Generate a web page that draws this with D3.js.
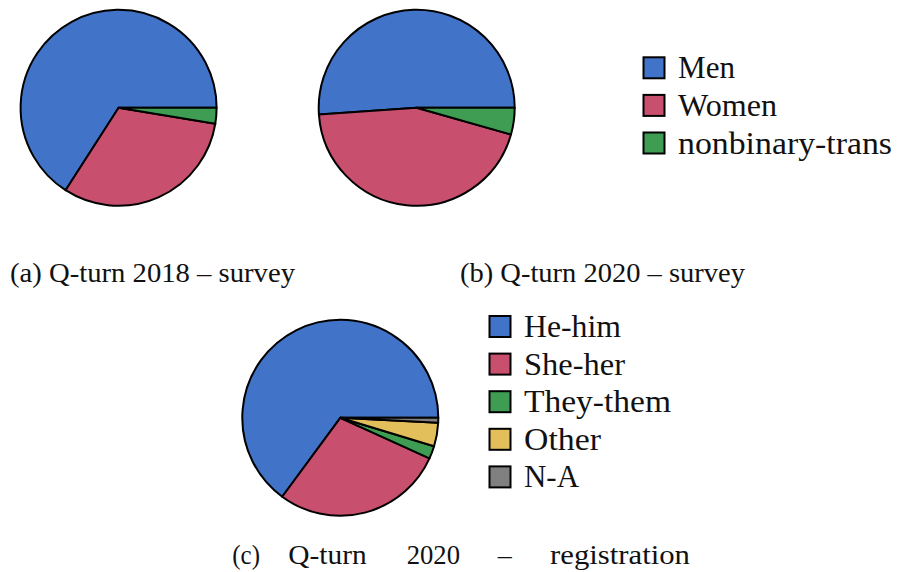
<!DOCTYPE html>
<html>
<head>
<meta charset="utf-8">
<script src="https://cdn.jsdelivr.net/npm/d3@7"></script>
<style>
  body { margin: 0; background: #fff; }
  svg { display: block; }
  svg text { font-family: "Liberation Serif", "DejaVu Serif", "Times New Roman", Times, Tinos, "Noto Serif", serif; }
</style>
</head>
<body>
<svg width="897" height="572"></svg>
<script>
// data, shares in percent
const genderLabels = ["Men", "Women", "nonbinary-trans"];
const survey2018 = [65.9, 31.5, 2.6];
const survey2020 = [51.1, 44.5, 4.4];
const pronounLabels = ["He-him", "She-her", "They-them", "Other", "N-A"];
const registration2020 = [64.9, 28.3, 2.1, 3.9, 0.8];
const captionA = "(a) Q-turn 2018 \u2013 survey";
const captionB = "(b) Q-turn 2020 \u2013 survey";
const captionCWords = ["(c)", "Q-turn", "2020", "\u2013", "registration"];

const colors = ["#4174c8", "#c84f6e", "#3e9d52", "#e3bf5b", "#808080"];

// label widths, to mimic the wider latex font
const genderWidths = [57, 99, 214];
const pronounWidths = [97, 101, 147, 77, 55];
const wordX = [232.3, 288.3, 406.7, 497.7, 550];
const wordW = [27.7, 78.4, 53.3, 14, 140];

const width = 897, height = 572;
const radius = 98;

const svg = d3.select("svg");

// slices go counterclockwise starting at 3 o'clock
const pie = d3.pie()
    .sort(null)
    .value(d => d)
    .startAngle(Math.PI / 2)
    .endAngle(Math.PI / 2 - 2 * Math.PI);

const arc = d3.arc().innerRadius(0).outerRadius(radius);

function drawPie(values, cx, cy) {
  const g = svg.append("g")
      .attr("transform", `translate(${cx}, ${cy})`);
  g.selectAll("path")
    .data(pie(values))
    .join("path")
      .attr("d", arc)
      .attr("fill", (d, i) => colors[i])
      .attr("stroke", "#000")
      .attr("stroke-width", 2)
      .attr("stroke-linejoin", "round");
}

function drawLegend(labels, widths, x, y) {
  const step = 37.6, box = 21;
  const g = svg.append("g")
      .attr("transform", `translate(${x}, ${y})`);
  const item = g.selectAll("g")
    .data(labels)
    .join("g")
      .attr("transform", (d, i) => `translate(0, ${i * step})`);
  item.append("rect")
      .attr("width", box)
      .attr("height", box)
      .attr("fill", (d, i) => colors[i])
      .attr("stroke", "#000")
      .attr("stroke-width", 2);
  item.append("text")
      .attr("x", 34.5)
      .attr("y", box)
      .style("font-size", "31px")
      .attr("fill", "#111")
      .attr("textLength", (d, i) => widths[i])
      .attr("lengthAdjust", "spacingAndGlyphs")
      .text(d => d);
}

drawPie(survey2018, 118.6, 107.8);
drawPie(survey2020, 416.7, 107.8);
drawPie(registration2020, 340.3, 417.8);

drawLegend(genderLabels, genderWidths, 643.5, 57.3);
drawLegend(pronounLabels, pronounWidths, 489.5, 316);

// sub captions
[[captionA, 10], [captionB, 460]].forEach(([t, x]) => {
  svg.append("text")
      .attr("x", x)
      .attr("y", 281.7)
      .style("font-size", "28px")
      .attr("fill", "#111")
      .attr("textLength", 285)
      .attr("lengthAdjust", "spacingAndGlyphs")
      .text(t);
});

// justified caption (c): words spread across the line
svg.selectAll(".capc")
  .data(captionCWords)
  .join("text")
    .attr("class", "capc")
    .attr("x", (d, i) => wordX[i])
    .attr("y", 564)
    .style("font-size", "28px")
    .attr("fill", "#111")
    .attr("textLength", (d, i) => wordW[i])
    .attr("lengthAdjust", "spacingAndGlyphs")
    .text(d => d);
</script>
</body>
</html>
